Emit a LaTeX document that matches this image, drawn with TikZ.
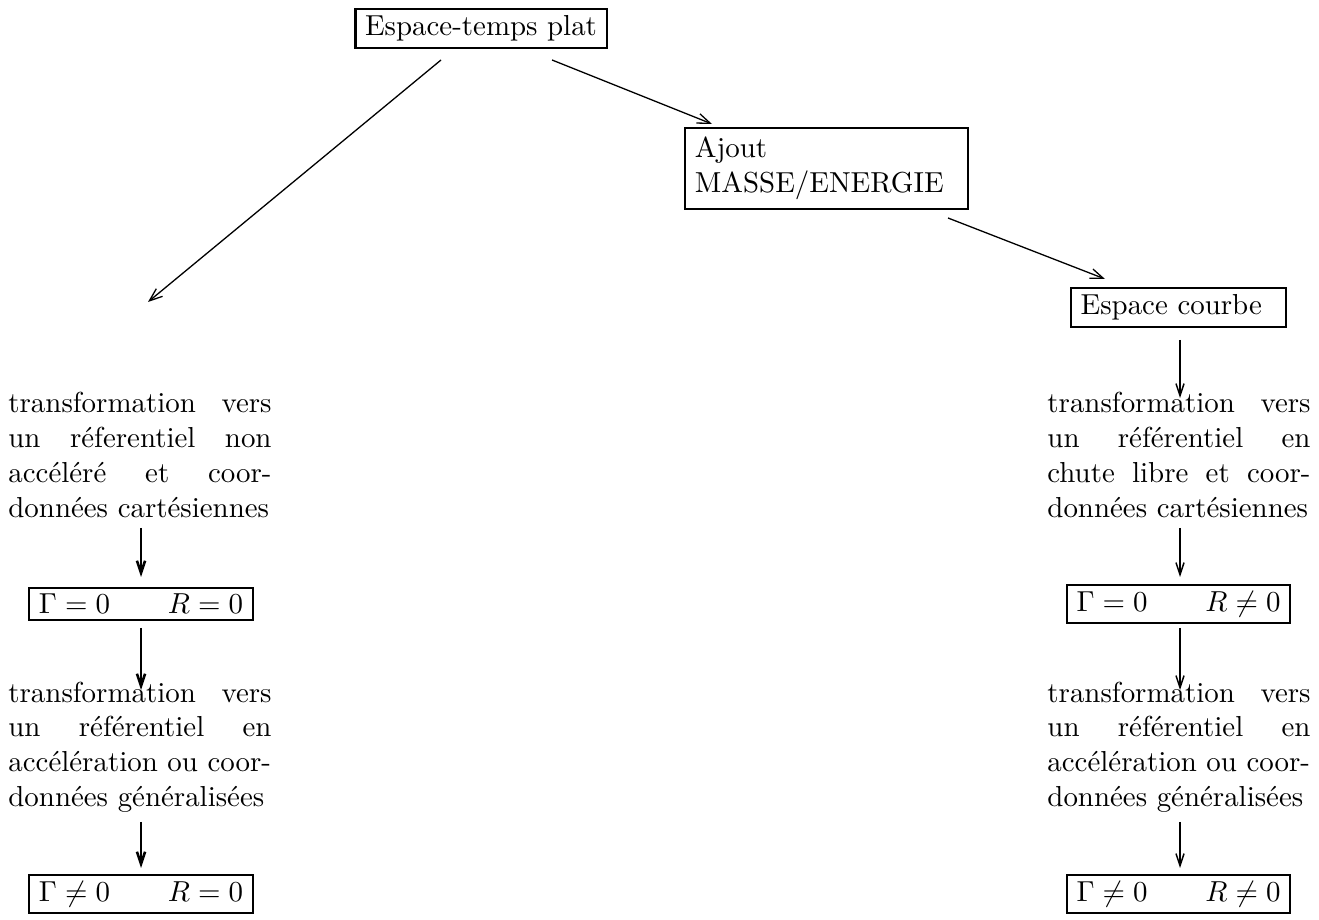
\documentclass[tikz,border=0pt]{standalone}
\usetikzlibrary{arrows.meta}
\begin{document}
\begin{tikzpicture}[x=0.346pt,y=-0.346pt,
  box/.style={draw,line width=0.75pt,inner xsep=3.33pt,inner ysep=2.2pt},
  para/.style={text width=3.2cm,align=left,inner sep=0pt},
  arr/.style={line width=0.45pt,-{Straight Barb[length=4.5pt,width=3.4pt]}},
  varr/.style={line width=0.5pt,-{Straight Barb[length=4.2pt,width=2.8pt]}},
  thickarr/.style={line width=0.9pt,-{Straight Barb[length=4.2pt,width=2.8pt]}}]
\useasboundingbox (0,0) rectangle (1319,920);
% nodes
\node[box] (plat) at (481,28.5) {Espace-temps plat};
\node[box,text width=3.2cm,align=left,inner ysep=3.3pt] (ajout) at (826.5,168.5) {Ajout\\MASSE/ENERGIE};
\node[box,inner xsep=3.33pt] (courbe) at (1178.5,307.5) {Espace courbe\ \,};
\node[para] (tl1) at (140,455) {transformation\hfill vers\\un\hfill réferentiel\hfill non\\accéléré\hfill et\hfill coor-\\données cartésiennes};
\node[para] (tl2) at (140,747) {transformation\hfill vers\\un\hfill référentiel\hfill en\\accélération ou coor-\\données généralisées};
\node[box] (gl1) at (141,604) {$\Gamma=0\qquad R=0$};
\node[box] (gl2) at (141,894) {$\Gamma\neq0\qquad R=0$};
\node[para] (tr1) at (1179,455) {transformation\hfill vers\\un\hfill référentiel\hfill en\\chute\hfill libre\hfill et\hfill coor-\\données cartésiennes};
\node[para] (tr2) at (1179,747) {transformation\hfill vers\\un\hfill référentiel\hfill en\\accélération ou coor-\\données généralisées};
\node[box] (gr1) at (1178.5,604) {$\Gamma=0\qquad R\neq0$};
\node[box] (gr2) at (1178.5,894) {$\Gamma\neq0\qquad R\neq0$};
% connector ends
\coordinate (p1) at (441,60);
\coordinate (free) at (148,302);
\coordinate (p2) at (552,60);
\coordinate (a1) at (712,124);
\coordinate (a2) at (948,218);
\coordinate (c1) at (1105,279);
\coordinate (c2) at (1180,340);
\coordinate (tr1in) at (1180,398);
\coordinate (tr1out) at (1180,528);
\coordinate (gr1in) at (1180,577);
\coordinate (gr1out) at (1180,628);
\coordinate (tr2in) at (1180,690);
\coordinate (tr2out) at (1180,822);
\coordinate (gr2in) at (1180,868);
\coordinate (tl1out) at (141,528);
\coordinate (gl1in) at (141,577);
\coordinate (gl1out) at (141,628);
\coordinate (tl2in) at (141,690);
\coordinate (tl2out) at (141,822);
\coordinate (gl2in) at (141,868);
% connectors
\draw[arr] (p1) -- (free);
\draw[arr] (p2) -- (a1);
\draw[arr] (a2) -- (c1);
\draw[varr] (c2) -- (tr1in);
\draw[varr] (tr1out) -- (gr1in);
\draw[varr] (gr1out) -- (tr2in);
\draw[varr] (tr2out) -- (gr2in);
\draw[thickarr] (tl1out) -- (gl1in);
\draw[thickarr] (gl1out) -- (tl2in);
\draw[thickarr] (tl2out) -- (gl2in);
\end{tikzpicture}
\end{document}
